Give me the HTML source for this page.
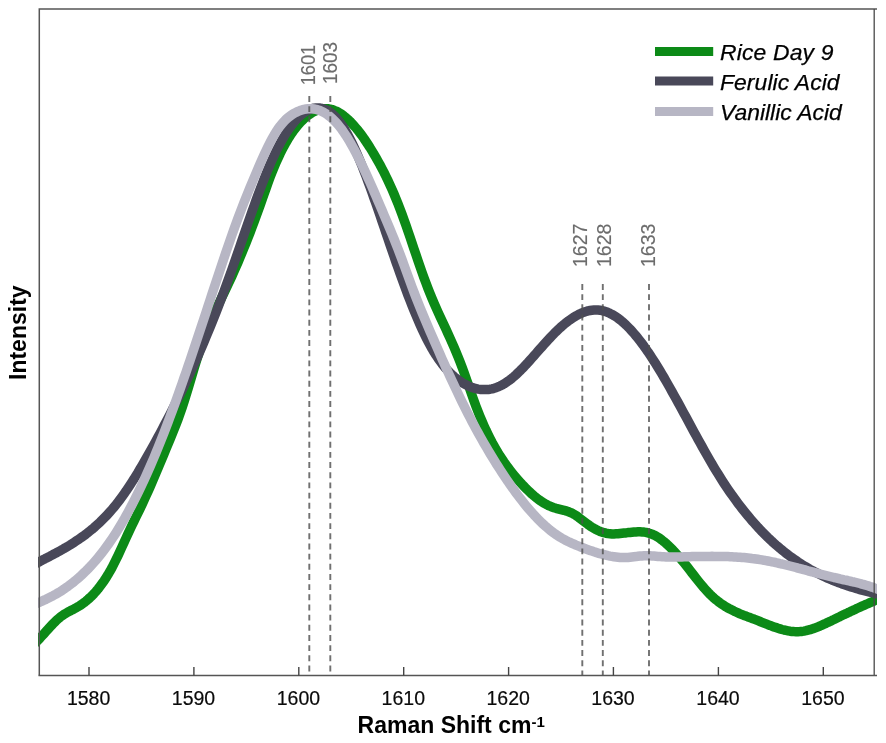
<!DOCTYPE html>
<html>
<head>
<meta charset="utf-8">
<title>Raman Spectra</title>
<style>
html,body{margin:0;padding:0;background:#fff;}
body{width:886px;height:743px;overflow:hidden;font-family:"Liberation Sans",sans-serif;}
svg{display:block;}
text{font-family:"Liberation Sans",sans-serif;}
</style>
</head>
<body>
<svg width="886" height="743" viewBox="0 0 886 743">
<rect x="0" y="0" width="886" height="743" fill="#ffffff"/>
<defs>
<filter id="gs" x="-5%" y="-20%" width="110%" height="140%" color-interpolation-filters="sRGB"><feColorMatrix type="saturate" values="0"/></filter>
<filter id="gs2" filterUnits="userSpaceOnUse" x="0" y="0" width="886" height="743" color-interpolation-filters="sRGB"><feColorMatrix type="saturate" values="0"/></filter>
<clipPath id="plotclip"><rect x="38" y="9" width="839" height="667"/></clipPath>
</defs>
<!-- curves -->
<g clip-path="url(#plotclip)" fill="none" stroke-width="9.5" stroke-linejoin="round" stroke-linecap="butt">
<path d="M30.0,647.7 L32.0,646.1 L34.0,644.2 L36.0,642.3 L38.0,640.2 L40.0,638.1 L42.0,635.9 L44.0,633.7 L46.0,631.4 L48.0,629.2 L50.0,627.0 L52.0,624.9 L54.0,622.8 L56.0,620.8 L58.0,619.0 L60.0,617.3 L62.0,615.8 L64.0,614.4 L66.0,613.2 L68.0,612.0 L70.0,611.0 L72.0,609.9 L74.0,608.9 L76.0,607.8 L78.0,606.7 L80.0,605.5 L82.0,604.1 L84.0,602.7 L86.0,601.1 L88.0,599.4 L90.0,597.6 L92.0,595.7 L94.0,593.6 L96.0,591.4 L98.0,589.0 L100.0,586.4 L102.0,583.7 L104.0,580.9 L106.0,577.8 L108.0,574.6 L110.0,571.2 L112.0,567.6 L114.0,563.7 L116.0,559.7 L118.0,555.6 L120.0,551.3 L122.0,546.9 L124.0,542.5 L126.0,538.1 L128.0,533.7 L130.0,529.5 L132.0,525.3 L134.0,521.1 L136.0,517.0 L138.0,512.9 L140.0,508.8 L142.0,504.6 L144.0,500.3 L146.0,495.9 L148.0,491.5 L150.0,487.0 L152.0,482.4 L154.0,477.7 L156.0,473.0 L158.0,468.2 L160.0,463.5 L162.0,458.6 L164.0,453.8 L166.0,449.0 L168.0,444.1 L170.0,439.3 L172.0,434.4 L174.0,429.5 L176.0,424.5 L178.0,419.2 L180.0,413.7 L182.0,407.9 L184.0,401.7 L186.0,395.3 L188.0,388.8 L190.0,382.1 L192.0,375.4 L194.0,368.7 L196.0,362.2 L198.0,355.8 L200.0,349.7 L202.0,343.8 L204.0,338.3 L206.0,333.0 L208.0,328.0 L210.0,323.1 L212.0,318.5 L214.0,314.0 L216.0,309.6 L218.0,305.4 L220.0,301.2 L222.0,297.0 L224.0,292.9 L226.0,288.7 L228.0,284.5 L230.0,280.2 L232.0,275.9 L234.0,271.4 L236.0,266.9 L238.0,262.3 L240.0,257.5 L242.0,252.7 L244.0,247.8 L246.0,242.9 L248.0,237.8 L250.0,232.7 L252.0,227.4 L254.0,222.1 L256.0,216.7 L258.0,211.2 L260.0,205.6 L262.0,200.0 L264.0,194.3 L266.0,188.6 L268.0,183.0 L270.0,177.5 L272.0,172.3 L274.0,167.4 L276.0,162.7 L278.0,158.2 L280.0,153.9 L282.0,149.9 L284.0,146.1 L286.0,142.5 L288.0,139.1 L290.0,135.9 L292.0,132.9 L294.0,130.1 L296.0,127.5 L298.0,125.0 L300.0,122.8 L302.0,120.7 L304.0,118.8 L306.0,117.0 L308.0,115.4 L310.0,114.0 L312.0,112.7 L314.0,111.6 L316.0,110.7 L318.0,110.0 L320.0,109.4 L322.0,109.0 L324.0,108.8 L326.0,108.7 L328.0,108.8 L330.0,109.1 L332.0,109.6 L334.0,110.3 L336.0,111.1 L338.0,112.1 L340.0,113.3 L342.0,114.6 L344.0,116.1 L346.0,117.7 L348.0,119.5 L350.0,121.4 L352.0,123.5 L354.0,125.7 L356.0,128.0 L358.0,130.4 L360.0,133.0 L362.0,135.7 L364.0,138.5 L366.0,141.5 L368.0,144.5 L370.0,147.6 L372.0,150.9 L374.0,154.2 L376.0,157.6 L378.0,161.2 L380.0,164.8 L382.0,168.6 L384.0,172.4 L386.0,176.5 L388.0,180.6 L390.0,184.9 L392.0,189.4 L394.0,194.0 L396.0,198.8 L398.0,203.8 L400.0,208.9 L402.0,214.2 L404.0,219.8 L406.0,225.4 L408.0,231.2 L410.0,237.0 L412.0,243.0 L414.0,248.9 L416.0,254.8 L418.0,260.7 L420.0,266.5 L422.0,272.2 L424.0,277.8 L426.0,283.2 L428.0,288.5 L430.0,293.6 L432.0,298.4 L434.0,303.1 L436.0,307.7 L438.0,312.1 L440.0,316.4 L442.0,320.7 L444.0,325.0 L446.0,329.3 L448.0,333.7 L450.0,338.1 L452.0,342.6 L454.0,347.2 L456.0,351.9 L458.0,356.8 L460.0,361.8 L462.0,367.0 L464.0,372.4 L466.0,378.0 L468.0,383.7 L470.0,389.5 L472.0,395.2 L474.0,400.8 L476.0,406.3 L478.0,411.5 L480.0,416.5 L482.0,421.2 L484.0,425.8 L486.0,430.2 L488.0,434.3 L490.0,438.3 L492.0,442.2 L494.0,445.8 L496.0,449.3 L498.0,452.7 L500.0,455.9 L502.0,458.9 L504.0,461.9 L506.0,464.7 L508.0,467.5 L510.0,470.1 L512.0,472.6 L514.0,475.1 L516.0,477.5 L518.0,479.8 L520.0,482.1 L522.0,484.3 L524.0,486.4 L526.0,488.5 L528.0,490.4 L530.0,492.3 L532.0,494.2 L534.0,495.9 L536.0,497.5 L538.0,499.1 L540.0,500.5 L542.0,501.9 L544.0,503.1 L546.0,504.3 L548.0,505.3 L550.0,506.2 L552.0,507.0 L554.0,507.7 L556.0,508.3 L558.0,508.8 L560.0,509.3 L562.0,509.8 L564.0,510.3 L566.0,510.9 L568.0,511.5 L570.0,512.3 L572.0,513.2 L574.0,514.3 L576.0,515.5 L578.0,516.9 L580.0,518.5 L582.0,520.0 L584.0,521.5 L586.0,523.0 L588.0,524.5 L590.0,525.9 L592.0,527.2 L594.0,528.4 L596.0,529.5 L598.0,530.5 L600.0,531.4 L602.0,532.1 L604.0,532.7 L606.0,533.2 L608.0,533.5 L610.0,533.7 L612.0,533.9 L614.0,533.9 L616.0,533.8 L618.0,533.7 L620.0,533.5 L622.0,533.3 L624.0,533.1 L626.0,532.9 L628.0,532.6 L630.0,532.4 L632.0,532.2 L634.0,532.0 L636.0,531.9 L638.0,531.8 L640.0,531.8 L642.0,531.9 L644.0,532.1 L646.0,532.4 L648.0,532.9 L650.0,533.5 L652.0,534.2 L654.0,535.1 L656.0,536.1 L658.0,537.3 L660.0,538.6 L662.0,540.1 L664.0,541.7 L666.0,543.4 L668.0,545.2 L670.0,547.1 L672.0,549.1 L674.0,551.2 L676.0,553.4 L678.0,555.6 L680.0,558.0 L682.0,560.4 L684.0,562.8 L686.0,565.3 L688.0,567.8 L690.0,570.4 L692.0,573.0 L694.0,575.5 L696.0,578.1 L698.0,580.6 L700.0,583.1 L702.0,585.5 L704.0,587.9 L706.0,590.1 L708.0,592.3 L710.0,594.4 L712.0,596.3 L714.0,598.1 L716.0,599.8 L718.0,601.4 L720.0,602.9 L722.0,604.3 L724.0,605.6 L726.0,606.9 L728.0,608.0 L730.0,609.1 L732.0,610.1 L734.0,611.1 L736.0,612.0 L738.0,612.9 L740.0,613.8 L742.0,614.6 L744.0,615.4 L746.0,616.1 L748.0,616.9 L750.0,617.6 L752.0,618.4 L754.0,619.1 L756.0,619.9 L758.0,620.7 L760.0,621.5 L762.0,622.3 L764.0,623.1 L766.0,623.9 L768.0,624.7 L770.0,625.4 L772.0,626.2 L774.0,626.9 L776.0,627.6 L778.0,628.3 L780.0,628.9 L782.0,629.5 L784.0,630.0 L786.0,630.4 L788.0,630.8 L790.0,631.2 L792.0,631.4 L794.0,631.6 L796.0,631.7 L798.0,631.7 L800.0,631.6 L802.0,631.4 L804.0,631.1 L806.0,630.7 L808.0,630.2 L810.0,629.7 L812.0,629.0 L814.0,628.4 L816.0,627.6 L818.0,626.8 L820.0,626.0 L822.0,625.1 L824.0,624.2 L826.0,623.3 L828.0,622.3 L830.0,621.4 L832.0,620.4 L834.0,619.5 L836.0,618.5 L838.0,617.5 L840.0,616.6 L842.0,615.6 L844.0,614.6 L846.0,613.7 L848.0,612.7 L850.0,611.8 L852.0,610.8 L854.0,609.9 L856.0,608.9 L858.0,608.0 L860.0,607.1 L862.0,606.2 L864.0,605.3 L866.0,604.4 L868.0,603.6 L870.0,602.7 L872.0,601.8 L874.0,601.0 L876.0,600.1 L878.0,599.2 L880.0,598.3 L882.0,597.4 L884.0,596.5 L886.0,595.5" stroke="#0c8a17"/>
<path d="M30.0,566.7 L32.0,565.6 L34.0,564.5 L36.0,563.5 L38.0,562.4 L40.0,561.4 L42.0,560.3 L44.0,559.3 L46.0,558.2 L48.0,557.2 L50.0,556.2 L52.0,555.1 L54.0,554.0 L56.0,553.0 L58.0,551.9 L60.0,550.8 L62.0,549.7 L64.0,548.5 L66.0,547.4 L68.0,546.2 L70.0,545.0 L72.0,543.7 L74.0,542.4 L76.0,541.1 L78.0,539.8 L80.0,538.4 L82.0,537.0 L84.0,535.6 L86.0,534.1 L88.0,532.5 L90.0,530.9 L92.0,529.3 L94.0,527.6 L96.0,525.8 L98.0,524.0 L100.0,522.2 L102.0,520.2 L104.0,518.2 L106.0,516.2 L108.0,514.0 L110.0,511.8 L112.0,509.5 L114.0,507.1 L116.0,504.7 L118.0,502.1 L120.0,499.5 L122.0,496.7 L124.0,493.9 L126.0,491.1 L128.0,488.1 L130.0,485.1 L132.0,482.0 L134.0,478.9 L136.0,475.6 L138.0,472.4 L140.0,469.0 L142.0,465.6 L144.0,462.2 L146.0,458.7 L148.0,455.2 L150.0,451.7 L152.0,448.1 L154.0,444.4 L156.0,440.8 L158.0,437.1 L160.0,433.4 L162.0,429.6 L164.0,425.8 L166.0,422.0 L168.0,418.2 L170.0,414.3 L172.0,410.4 L174.0,406.5 L176.0,402.5 L178.0,398.5 L180.0,394.4 L182.0,390.3 L184.0,386.1 L186.0,381.9 L188.0,377.7 L190.0,373.4 L192.0,369.0 L194.0,364.6 L196.0,360.2 L198.0,355.7 L200.0,351.1 L202.0,346.5 L204.0,341.8 L206.0,337.0 L208.0,332.2 L210.0,327.4 L212.0,322.4 L214.0,317.4 L216.0,312.4 L218.0,307.2 L220.0,302.0 L222.0,296.7 L224.0,291.4 L226.0,285.9 L228.0,280.4 L230.0,274.9 L232.0,269.2 L234.0,263.5 L236.0,257.8 L238.0,252.0 L240.0,246.2 L242.0,240.4 L244.0,234.6 L246.0,228.8 L248.0,223.0 L250.0,217.3 L252.0,211.6 L254.0,206.0 L256.0,200.4 L258.0,195.0 L260.0,189.6 L262.0,184.4 L264.0,179.2 L266.0,174.2 L268.0,169.4 L270.0,164.6 L272.0,160.1 L274.0,155.7 L276.0,151.5 L278.0,147.5 L280.0,143.7 L282.0,140.1 L284.0,136.6 L286.0,133.3 L288.0,130.3 L290.0,127.4 L292.0,124.7 L294.0,122.2 L296.0,119.9 L298.0,117.8 L300.0,115.9 L302.0,114.2 L304.0,112.7 L306.0,111.4 L308.0,110.3 L310.0,109.4 L312.0,108.7 L314.0,108.2 L316.0,108.0 L318.0,107.9 L320.0,108.1 L322.0,108.5 L324.0,109.1 L326.0,109.9 L328.0,111.0 L330.0,112.2 L332.0,113.8 L334.0,115.6 L336.0,117.6 L338.0,119.9 L340.0,122.4 L342.0,125.2 L344.0,128.2 L346.0,131.6 L348.0,135.1 L350.0,138.9 L352.0,142.9 L354.0,147.1 L356.0,151.5 L358.0,156.1 L360.0,160.9 L362.0,165.8 L364.0,170.9 L366.0,176.1 L368.0,181.5 L370.0,186.9 L372.0,192.4 L374.0,198.1 L376.0,203.8 L378.0,209.5 L380.0,215.3 L382.0,221.2 L384.0,227.0 L386.0,232.9 L388.0,238.8 L390.0,244.7 L392.0,250.5 L394.0,256.3 L396.0,262.1 L398.0,267.8 L400.0,273.4 L402.0,279.0 L404.0,284.5 L406.0,289.9 L408.0,295.2 L410.0,300.4 L412.0,305.5 L414.0,310.4 L416.0,315.3 L418.0,320.0 L420.0,324.6 L422.0,329.0 L424.0,333.3 L426.0,337.4 L428.0,341.3 L430.0,345.0 L432.0,348.6 L434.0,352.0 L436.0,355.2 L438.0,358.2 L440.0,361.0 L442.0,363.7 L444.0,366.2 L446.0,368.6 L448.0,370.8 L450.0,372.9 L452.0,374.8 L454.0,376.6 L456.0,378.3 L458.0,379.8 L460.0,381.3 L462.0,382.6 L464.0,383.8 L466.0,384.8 L468.0,385.8 L470.0,386.7 L472.0,387.4 L474.0,388.1 L476.0,388.6 L478.0,389.1 L480.0,389.4 L482.0,389.6 L484.0,389.6 L486.0,389.6 L488.0,389.5 L490.0,389.2 L492.0,388.8 L494.0,388.3 L496.0,387.7 L498.0,386.9 L500.0,386.0 L502.0,385.0 L504.0,383.9 L506.0,382.6 L508.0,381.2 L510.0,379.8 L512.0,378.2 L514.0,376.5 L516.0,374.7 L518.0,372.8 L520.0,370.9 L522.0,368.8 L524.0,366.8 L526.0,364.6 L528.0,362.5 L530.0,360.3 L532.0,358.0 L534.0,355.8 L536.0,353.5 L538.0,351.2 L540.0,348.9 L542.0,346.7 L544.0,344.4 L546.0,342.2 L548.0,340.0 L550.0,337.9 L552.0,335.8 L554.0,333.7 L556.0,331.7 L558.0,329.8 L560.0,327.9 L562.0,326.1 L564.0,324.4 L566.0,322.8 L568.0,321.2 L570.0,319.8 L572.0,318.4 L574.0,317.1 L576.0,315.9 L578.0,314.8 L580.0,313.8 L582.0,312.9 L584.0,312.1 L586.0,311.5 L588.0,310.9 L590.0,310.5 L592.0,310.2 L594.0,310.0 L596.0,309.9 L598.0,310.0 L600.0,310.2 L602.0,310.6 L604.0,311.1 L606.0,311.7 L608.0,312.5 L610.0,313.4 L612.0,314.4 L614.0,315.6 L616.0,316.8 L618.0,318.2 L620.0,319.8 L622.0,321.4 L624.0,323.1 L626.0,325.0 L628.0,327.0 L630.0,329.0 L632.0,331.2 L634.0,333.5 L636.0,335.9 L638.0,338.3 L640.0,340.9 L642.0,343.5 L644.0,346.2 L646.0,349.1 L648.0,351.9 L650.0,354.9 L652.0,358.0 L654.0,361.1 L656.0,364.2 L658.0,367.5 L660.0,370.8 L662.0,374.1 L664.0,377.5 L666.0,381.0 L668.0,384.5 L670.0,388.0 L672.0,391.6 L674.0,395.2 L676.0,398.8 L678.0,402.4 L680.0,406.1 L682.0,409.7 L684.0,413.4 L686.0,417.1 L688.0,420.8 L690.0,424.5 L692.0,428.2 L694.0,431.9 L696.0,435.5 L698.0,439.2 L700.0,442.8 L702.0,446.4 L704.0,450.0 L706.0,453.5 L708.0,457.0 L710.0,460.5 L712.0,463.9 L714.0,467.3 L716.0,470.6 L718.0,473.8 L720.0,477.0 L722.0,480.2 L724.0,483.3 L726.0,486.3 L728.0,489.3 L730.0,492.2 L732.0,495.0 L734.0,497.8 L736.0,500.6 L738.0,503.3 L740.0,505.9 L742.0,508.5 L744.0,511.0 L746.0,513.5 L748.0,515.9 L750.0,518.3 L752.0,520.7 L754.0,522.9 L756.0,525.2 L758.0,527.4 L760.0,529.5 L762.0,531.6 L764.0,533.6 L766.0,535.6 L768.0,537.6 L770.0,539.5 L772.0,541.4 L774.0,543.2 L776.0,545.0 L778.0,546.7 L780.0,548.4 L782.0,550.0 L784.0,551.6 L786.0,553.2 L788.0,554.8 L790.0,556.3 L792.0,557.7 L794.0,559.1 L796.0,560.5 L798.0,561.9 L800.0,563.2 L802.0,564.5 L804.0,565.7 L806.0,566.9 L808.0,568.1 L810.0,569.3 L812.0,570.4 L814.0,571.5 L816.0,572.5 L818.0,573.5 L820.0,574.5 L822.0,575.5 L824.0,576.5 L826.0,577.4 L828.0,578.3 L830.0,579.1 L832.0,580.0 L834.0,580.8 L836.0,581.6 L838.0,582.4 L840.0,583.1 L842.0,583.9 L844.0,584.6 L846.0,585.3 L848.0,585.9 L850.0,586.6 L852.0,587.2 L854.0,587.8 L856.0,588.4 L858.0,589.0 L860.0,589.6 L862.0,590.2 L864.0,590.7 L866.0,591.2 L868.0,591.7 L870.0,592.2 L872.0,592.7 L874.0,593.2 L876.0,593.7 L878.0,594.2 L880.0,594.6 L882.0,595.1 L884.0,595.5 L886.0,595.9" stroke="#494859"/>
<path d="M30.0,605.7 L32.0,605.0 L34.0,604.3 L36.0,603.6 L38.0,602.8 L40.0,602.0 L42.0,601.1 L44.0,600.2 L46.0,599.3 L48.0,598.3 L50.0,597.3 L52.0,596.3 L54.0,595.2 L56.0,594.1 L58.0,592.9 L60.0,591.7 L62.0,590.4 L64.0,589.1 L66.0,587.7 L68.0,586.3 L70.0,584.8 L72.0,583.3 L74.0,581.7 L76.0,580.0 L78.0,578.3 L80.0,576.6 L82.0,574.7 L84.0,572.8 L86.0,570.9 L88.0,568.9 L90.0,566.8 L92.0,564.6 L94.0,562.4 L96.0,560.1 L98.0,557.7 L100.0,555.2 L102.0,552.7 L104.0,550.1 L106.0,547.4 L108.0,544.7 L110.0,541.8 L112.0,538.9 L114.0,535.9 L116.0,532.8 L118.0,529.6 L120.0,526.3 L122.0,522.9 L124.0,519.5 L126.0,515.9 L128.0,512.3 L130.0,508.6 L132.0,504.8 L134.0,500.9 L136.0,496.9 L138.0,492.9 L140.0,488.7 L142.0,484.5 L144.0,480.2 L146.0,475.8 L148.0,471.3 L150.0,466.8 L152.0,462.2 L154.0,457.5 L156.0,452.7 L158.0,447.8 L160.0,442.8 L162.0,437.8 L164.0,432.7 L166.0,427.5 L168.0,422.2 L170.0,416.9 L172.0,411.5 L174.0,406.1 L176.0,400.6 L178.0,395.0 L180.0,389.4 L182.0,383.7 L184.0,377.9 L186.0,372.2 L188.0,366.3 L190.0,360.5 L192.0,354.6 L194.0,348.6 L196.0,342.6 L198.0,336.6 L200.0,330.6 L202.0,324.5 L204.0,318.5 L206.0,312.4 L208.0,306.3 L210.0,300.2 L212.0,294.1 L214.0,288.0 L216.0,281.9 L218.0,275.9 L220.0,269.9 L222.0,263.9 L224.0,258.0 L226.0,252.1 L228.0,246.3 L230.0,240.5 L232.0,234.8 L234.0,229.2 L236.0,223.7 L238.0,218.2 L240.0,212.8 L242.0,207.6 L244.0,202.4 L246.0,197.4 L248.0,192.5 L250.0,187.6 L252.0,182.8 L254.0,178.0 L256.0,173.3 L258.0,168.6 L260.0,164.0 L262.0,159.4 L264.0,155.0 L266.0,150.7 L268.0,146.5 L270.0,142.5 L272.0,138.8 L274.0,135.2 L276.0,131.9 L278.0,128.9 L280.0,126.2 L282.0,123.7 L284.0,121.5 L286.0,119.4 L288.0,117.6 L290.0,116.1 L292.0,114.6 L294.0,113.4 L296.0,112.3 L298.0,111.4 L300.0,110.6 L302.0,109.9 L304.0,109.4 L306.0,109.0 L308.0,108.8 L310.0,108.7 L312.0,108.8 L314.0,109.0 L316.0,109.4 L318.0,109.9 L320.0,110.6 L322.0,111.5 L324.0,112.5 L326.0,113.7 L328.0,115.1 L330.0,116.6 L332.0,118.3 L334.0,120.3 L336.0,122.3 L338.0,124.6 L340.0,127.1 L342.0,129.7 L344.0,132.6 L346.0,135.6 L348.0,138.8 L350.0,142.1 L352.0,145.6 L354.0,149.2 L356.0,153.0 L358.0,156.9 L360.0,160.9 L362.0,165.0 L364.0,169.3 L366.0,173.6 L368.0,178.0 L370.0,182.4 L372.0,186.9 L374.0,191.5 L376.0,196.1 L378.0,200.8 L380.0,205.5 L382.0,210.2 L384.0,215.0 L386.0,219.7 L388.0,224.4 L390.0,229.2 L392.0,234.0 L394.0,238.9 L396.0,243.9 L398.0,248.9 L400.0,254.2 L402.0,259.5 L404.0,265.0 L406.0,270.5 L408.0,276.0 L410.0,281.5 L412.0,287.0 L414.0,292.3 L416.0,297.4 L418.0,302.5 L420.0,307.5 L422.0,312.4 L424.0,317.2 L426.0,321.9 L428.0,326.6 L430.0,331.3 L432.0,335.9 L434.0,340.5 L436.0,345.1 L438.0,349.7 L440.0,354.2 L442.0,358.8 L444.0,363.2 L446.0,367.7 L448.0,372.1 L450.0,376.5 L452.0,380.8 L454.0,385.1 L456.0,389.3 L458.0,393.5 L460.0,397.7 L462.0,401.8 L464.0,405.8 L466.0,409.8 L468.0,413.8 L470.0,417.6 L472.0,421.5 L474.0,425.2 L476.0,429.0 L478.0,432.6 L480.0,436.2 L482.0,439.8 L484.0,443.3 L486.0,446.7 L488.0,450.1 L490.0,453.5 L492.0,456.8 L494.0,460.0 L496.0,463.3 L498.0,466.4 L500.0,469.5 L502.0,472.6 L504.0,475.6 L506.0,478.6 L508.0,481.6 L510.0,484.4 L512.0,487.3 L514.0,490.1 L516.0,492.8 L518.0,495.5 L520.0,498.1 L522.0,500.7 L524.0,503.2 L526.0,505.7 L528.0,508.1 L530.0,510.4 L532.0,512.7 L534.0,514.9 L536.0,517.0 L538.0,519.1 L540.0,521.1 L542.0,523.1 L544.0,524.9 L546.0,526.7 L548.0,528.4 L550.0,530.1 L552.0,531.6 L554.0,533.1 L556.0,534.5 L558.0,535.9 L560.0,537.1 L562.0,538.3 L564.0,539.4 L566.0,540.5 L568.0,541.5 L570.0,542.4 L572.0,543.3 L574.0,544.2 L576.0,545.1 L578.0,545.9 L580.0,546.7 L582.0,547.4 L584.0,548.2 L586.0,549.0 L588.0,549.7 L590.0,550.4 L592.0,551.1 L594.0,551.8 L596.0,552.4 L598.0,553.1 L600.0,553.7 L602.0,554.2 L604.0,554.7 L606.0,555.2 L608.0,555.7 L610.0,556.1 L612.0,556.4 L614.0,556.8 L616.0,557.0 L618.0,557.2 L620.0,557.4 L622.0,557.5 L624.0,557.5 L626.0,557.5 L628.0,557.4 L630.0,557.2 L632.0,557.0 L634.0,556.8 L636.0,556.6 L638.0,556.3 L640.0,556.1 L642.0,555.9 L644.0,555.8 L646.0,555.7 L648.0,555.7 L650.0,555.8 L652.0,555.9 L654.0,556.1 L656.0,556.3 L658.0,556.5 L660.0,556.6 L662.0,556.7 L664.0,556.8 L666.0,556.9 L668.0,557.0 L670.0,557.0 L672.0,557.0 L674.0,557.0 L676.0,557.0 L678.0,556.9 L680.0,556.9 L682.0,556.9 L684.0,556.8 L686.0,556.8 L688.0,556.7 L690.0,556.7 L692.0,556.6 L694.0,556.6 L696.0,556.5 L698.0,556.5 L700.0,556.5 L702.0,556.4 L704.0,556.4 L706.0,556.4 L708.0,556.4 L710.0,556.4 L712.0,556.3 L714.0,556.4 L716.0,556.4 L718.0,556.4 L720.0,556.4 L722.0,556.5 L724.0,556.5 L726.0,556.6 L728.0,556.6 L730.0,556.7 L732.0,556.8 L734.0,556.9 L736.0,557.0 L738.0,557.2 L740.0,557.3 L742.0,557.5 L744.0,557.6 L746.0,557.8 L748.0,558.0 L750.0,558.2 L752.0,558.5 L754.0,558.7 L756.0,559.0 L758.0,559.3 L760.0,559.6 L762.0,559.9 L764.0,560.3 L766.0,560.6 L768.0,561.0 L770.0,561.4 L772.0,561.8 L774.0,562.2 L776.0,562.7 L778.0,563.1 L780.0,563.6 L782.0,564.0 L784.0,564.5 L786.0,565.0 L788.0,565.5 L790.0,566.0 L792.0,566.5 L794.0,567.0 L796.0,567.5 L798.0,568.1 L800.0,568.6 L802.0,569.1 L804.0,569.7 L806.0,570.2 L808.0,570.8 L810.0,571.3 L812.0,571.8 L814.0,572.4 L816.0,572.9 L818.0,573.4 L820.0,574.0 L822.0,574.5 L824.0,575.0 L826.0,575.5 L828.0,576.0 L830.0,576.5 L832.0,577.0 L834.0,577.5 L836.0,577.9 L838.0,578.4 L840.0,578.9 L842.0,579.3 L844.0,579.8 L846.0,580.2 L848.0,580.7 L850.0,581.1 L852.0,581.6 L854.0,582.0 L856.0,582.5 L858.0,583.0 L860.0,583.5 L862.0,584.1 L864.0,584.6 L866.0,585.2 L868.0,585.8 L870.0,586.5 L872.0,587.1 L874.0,587.8 L876.0,588.6 L878.0,589.3 L880.0,590.1 L882.0,591.0 L884.0,591.9 L886.0,592.8" stroke="#b7b6c4"/>
</g>
<!-- dashed markers -->
<g stroke="#505050" stroke-opacity="0.82" stroke-width="1.9" stroke-dasharray="5.9 4.27" fill="none">
<line x1="309.3" y1="96" x2="309.3" y2="675.6"/>
<line x1="330.3" y1="96" x2="330.3" y2="675.6"/>
<line x1="582.3" y1="284" x2="582.3" y2="675.6"/>
<line x1="602.8" y1="284" x2="602.8" y2="675.6"/>
<line x1="649" y1="284" x2="649" y2="675.6"/>
</g>
<!-- axes box -->
<g stroke="#555555" stroke-width="1.5" fill="none">
<path d="M39.3,675.6 L39.3,9.1 L877,9.1"/>
<path d="M874.2,9.1 L874.2,675.6" stroke="#484848" stroke-width="1.3"/>
<path d="M38.5,675.6 L877,675.6"/>
</g>
<!-- ticks -->
<g stroke="#444444" stroke-width="1.4">
<line x1="89" y1="667" x2="89" y2="675.6"/>
<line x1="193.9" y1="667" x2="193.9" y2="675.6"/>
<line x1="298.8" y1="667" x2="298.8" y2="675.6"/>
<line x1="403.7" y1="667" x2="403.7" y2="675.6"/>
<line x1="508.6" y1="667" x2="508.6" y2="675.6"/>
<line x1="613.4" y1="667" x2="613.4" y2="675.6"/>
<line x1="718.4" y1="667" x2="718.4" y2="675.6"/>
<line x1="823.3" y1="667" x2="823.3" y2="675.6"/>
</g>
<!-- tick labels -->
<g font-size="19.5" fill="#0a0a0a" stroke="#0a0a0a" stroke-width="0.2" text-anchor="middle" filter="url(#gs)">
<text x="88.6" y="704.6">1580</text>
<text x="193.5" y="704.6">1590</text>
<text x="298.4" y="704.6">1600</text>
<text x="403.3" y="704.6">1610</text>
<text x="508.2" y="704.6">1620</text>
<text x="613" y="704.6">1630</text>
<text x="718" y="704.6">1640</text>
<text x="822.9" y="704.6">1650</text>
</g>
<!-- axis labels -->
<text x="357.6" y="733.1" font-size="23" font-weight="bold" fill="#000" filter="url(#gs)">Raman Shift cm<tspan font-size="15" dy="-6.3">-1</tspan></text>
<g filter="url(#gs2)"><text transform="translate(26.2,332.7) rotate(-90)" font-size="23" font-weight="bold" fill="#000" text-anchor="middle">Intensity</text></g>
<!-- peak labels -->
<g font-size="19.5" fill="#6c6c6c" stroke="#6c6c6c" stroke-width="0.15" filter="url(#gs2)">
<text transform="translate(314.9,85.3) rotate(-90) scale(0.935,1.03)">1601</text>
<text transform="translate(336.7,84.0) rotate(-90) scale(0.97,1.03)">1603</text>
<text transform="translate(587.3,267) rotate(-90)">1627</text>
<text transform="translate(611.1,267) rotate(-90)">1628</text>
<text transform="translate(655.3,267) rotate(-90)">1633</text>
</g>
<!-- legend -->
<g stroke-width="9" fill="none">
<line x1="655" y1="51.4" x2="713.2" y2="51.4" stroke="#0c8a17"/>
<line x1="655" y1="80.9" x2="713.2" y2="80.9" stroke="#494859"/>
<line x1="655" y1="111.4" x2="713.2" y2="111.4" stroke="#b7b6c4"/>
</g>
<g font-size="22.9" font-style="italic" fill="#000" stroke="#000" stroke-width="0.25" filter="url(#gs)">
<text x="720" y="60" letter-spacing="0.17">Rice Day 9</text>
<text x="720" y="90.3" letter-spacing="0.08">Ferulic Acid</text>
<text x="720" y="120.3">Vanillic Acid</text>
</g>
</svg>
</body>
</html>
